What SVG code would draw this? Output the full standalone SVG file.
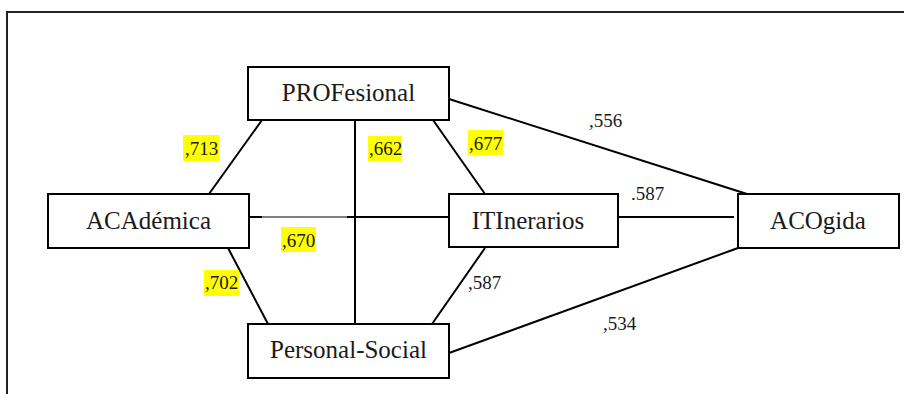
<svg xmlns="http://www.w3.org/2000/svg" width="904" height="394" viewBox="0 0 904 394">
<style>
.frame{fill:none;stroke:#222;stroke-width:2}
.box{fill:#fff;stroke:#000;stroke-width:2}
.ln{stroke:#000;stroke-width:2;fill:none}
.thin{stroke:#000;stroke-width:1;fill:none}
.hl{fill:#ffff00}
</style>
<rect width="904" height="394" fill="#fff"/>
<g id="frame">
<path class="frame" d="M7 394 V12 H904"/>
</g>
<g id="connectors">
<line class="ln" x1="262" y1="120" x2="209" y2="194"/>
<line class="ln" x1="355" y1="120" x2="355" y2="324"/>
<line class="ln" x1="433" y1="120" x2="485" y2="194"/>
<line class="ln" x1="249" y1="217" x2="262" y2="217"/>
<line class="thin" x1="262" y1="217" x2="347" y2="217"/>
<line class="ln" x1="347" y1="217" x2="449" y2="217"/>
<line class="ln" x1="228" y1="248" x2="268" y2="324"/>
<line class="ln" x1="485" y1="248" x2="432" y2="324"/>
<line class="ln" x1="618" y1="217" x2="734" y2="217"/>
<line class="ln" x1="449" y1="99" x2="747" y2="194"/>
<line class="ln" x1="449" y1="353" x2="738" y2="248"/>
</g>
<g id="labels" font-family="Liberation Serif, DejaVu Serif, serif" font-size="19" fill="#1a1a1a">
<rect class="hl" x="183" y="135" width="36" height="26"/>
<text x="185" y="155">,713</text>
<rect class="hl" x="368" y="136" width="34" height="25"/>
<text x="369" y="155">,662</text>
<rect class="hl" x="468" y="130" width="35" height="25"/>
<text x="469" y="150">,677</text>
<rect class="hl" x="281" y="227" width="35" height="25"/>
<text x="282" y="247">,670</text>
<rect class="hl" x="204" y="270" width="35" height="26"/>
<text x="205" y="289">,702</text>
<text x="589" y="127">,556</text>
<text x="631" y="200">.587</text>
<text x="468" y="289">,587</text>
<text x="603" y="330">,534</text>
</g>
<g id="nodes" font-family="Liberation Serif, DejaVu Serif, serif" font-size="25" fill="#1a1a1a" text-anchor="middle">
<g id="PROFesional">
<rect class="box" x="248" y="67" width="201" height="53"/>
<text x="348.5" y="101">PROFesional</text>
</g>
<g id="ACAdemica">
<rect class="box" x="48" y="194" width="201" height="54"/>
<text x="148.5" y="229">ACAdémica</text>
</g>
<g id="ITInerarios">
<rect class="box" x="449" y="194" width="169" height="53"/>
<text x="528" y="229">ITInerarios</text>
</g>
<g id="ACOgida">
<rect class="box" x="738" y="194" width="161" height="54"/>
<text x="818" y="229">ACOgida</text>
</g>
<g id="Personal-Social">
<rect class="box" x="248" y="324" width="201" height="54"/>
<text x="348.5" y="358">Personal-Social</text>
</g>
</g>
</svg>
